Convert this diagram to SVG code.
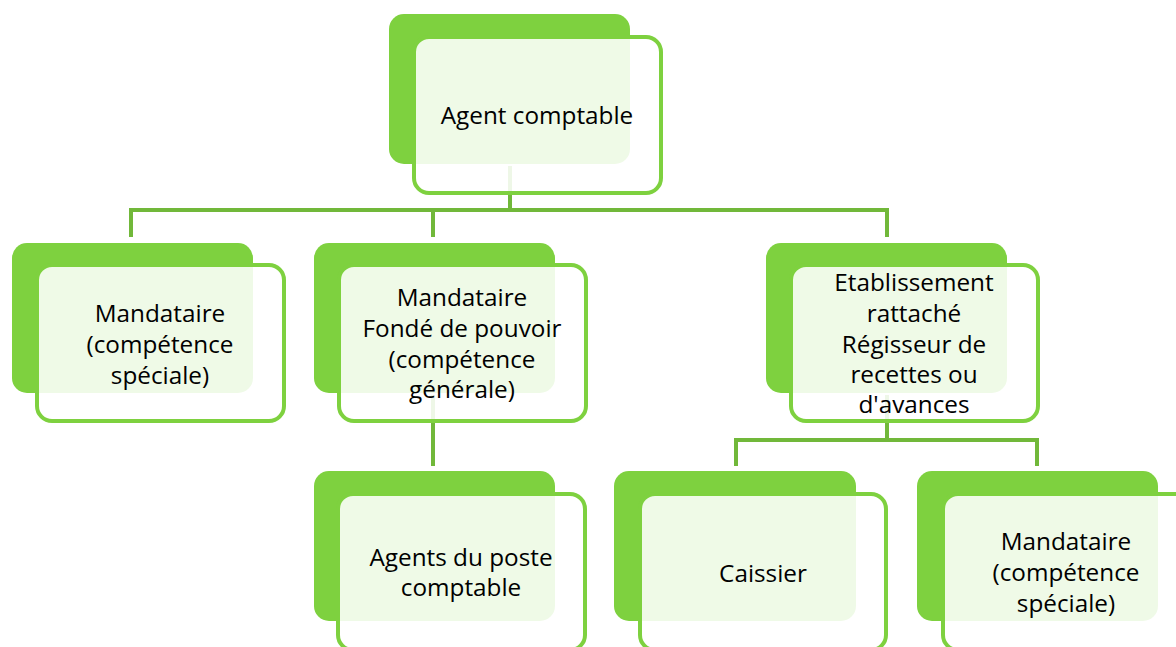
<svg xmlns="http://www.w3.org/2000/svg" width="1176" height="647" viewBox="0 0 1176 647">
<style>
.back{fill:#7ed13f}
.front{fill:#ffffff;fill-opacity:0.88;stroke:#7ed13f;stroke-width:4}
.conn{fill:none;stroke:#71b83a;stroke-width:4}
text{font-family:"Open Sans","Liberation Sans",sans-serif;font-size:24.3px;fill:#000;text-anchor:middle}
</style>
<rect width="1176" height="647" fill="#ffffff"/>
<g id="connectors">
<path class="conn" d="M510 166 V210 M131 210 H887 M131 208 V237 M433 208 V237 M887 208 V237"/>
<path class="conn" d="M433 395 V466"/>
<path class="conn" d="M887 395 V440 M736 440 H1037 M736 438 V466 M1037 438 V466"/>
</g>
<g id="node-agent-comptable">
<rect class="back" x="389" y="14" width="241" height="150" rx="15"/>
<rect class="front" x="414" y="37" width="247" height="156" rx="15"/>
<text x="537" y="124">Agent comptable</text>
</g>
<g id="node-mandataire-1">
<rect class="back" x="12" y="243" width="241" height="150" rx="15"/>
<rect class="front" x="37" y="265" width="247" height="156" rx="15"/>
<text x="160" y="322">Mandataire</text>
<text x="160" y="353">(compétence</text>
<text x="160" y="384">spéciale)</text>
</g>
<g id="node-mandataire-fonde">
<rect class="back" x="314" y="243" width="241" height="150" rx="15"/>
<rect class="front" x="339" y="265" width="247" height="156" rx="15"/>
<text x="462" y="306">Mandataire</text>
<text x="462" y="337">Fondé de pouvoir</text>
<text x="462" y="368">(compétence</text>
<text x="462" y="398">générale)</text>
</g>
<g id="node-etablissement">
<rect class="back" x="766" y="243" width="241" height="150" rx="15"/>
<rect class="front" x="791" y="265" width="247" height="156" rx="15"/>
<text x="914" y="291">Etablissement</text>
<text x="914" y="322">rattaché</text>
<text x="914" y="353">Régisseur de</text>
<text x="914" y="383">recettes ou</text>
<text x="914" y="413">d'avances</text>
</g>
<g id="node-agents-poste">
<rect class="back" x="314" y="471" width="241" height="150" rx="15"/>
<rect class="front" x="338" y="494" width="247" height="156" rx="15"/>
<text x="461" y="566">Agents du poste</text>
<text x="461" y="596">comptable</text>
</g>
<g id="node-caissier">
<rect class="back" x="614" y="471" width="242" height="150" rx="15"/>
<rect class="front" x="640" y="494" width="246" height="156" rx="15"/>
<text x="763" y="582">Caissier</text>
</g>
<g id="node-mandataire-2">
<rect class="back" x="917" y="471" width="241" height="150" rx="15"/>
<rect class="front" x="943" y="494" width="247" height="156" rx="15"/>
<text x="1066" y="550">Mandataire</text>
<text x="1066" y="581">(compétence</text>
<text x="1066" y="612">spéciale)</text>
</g>
</svg>
